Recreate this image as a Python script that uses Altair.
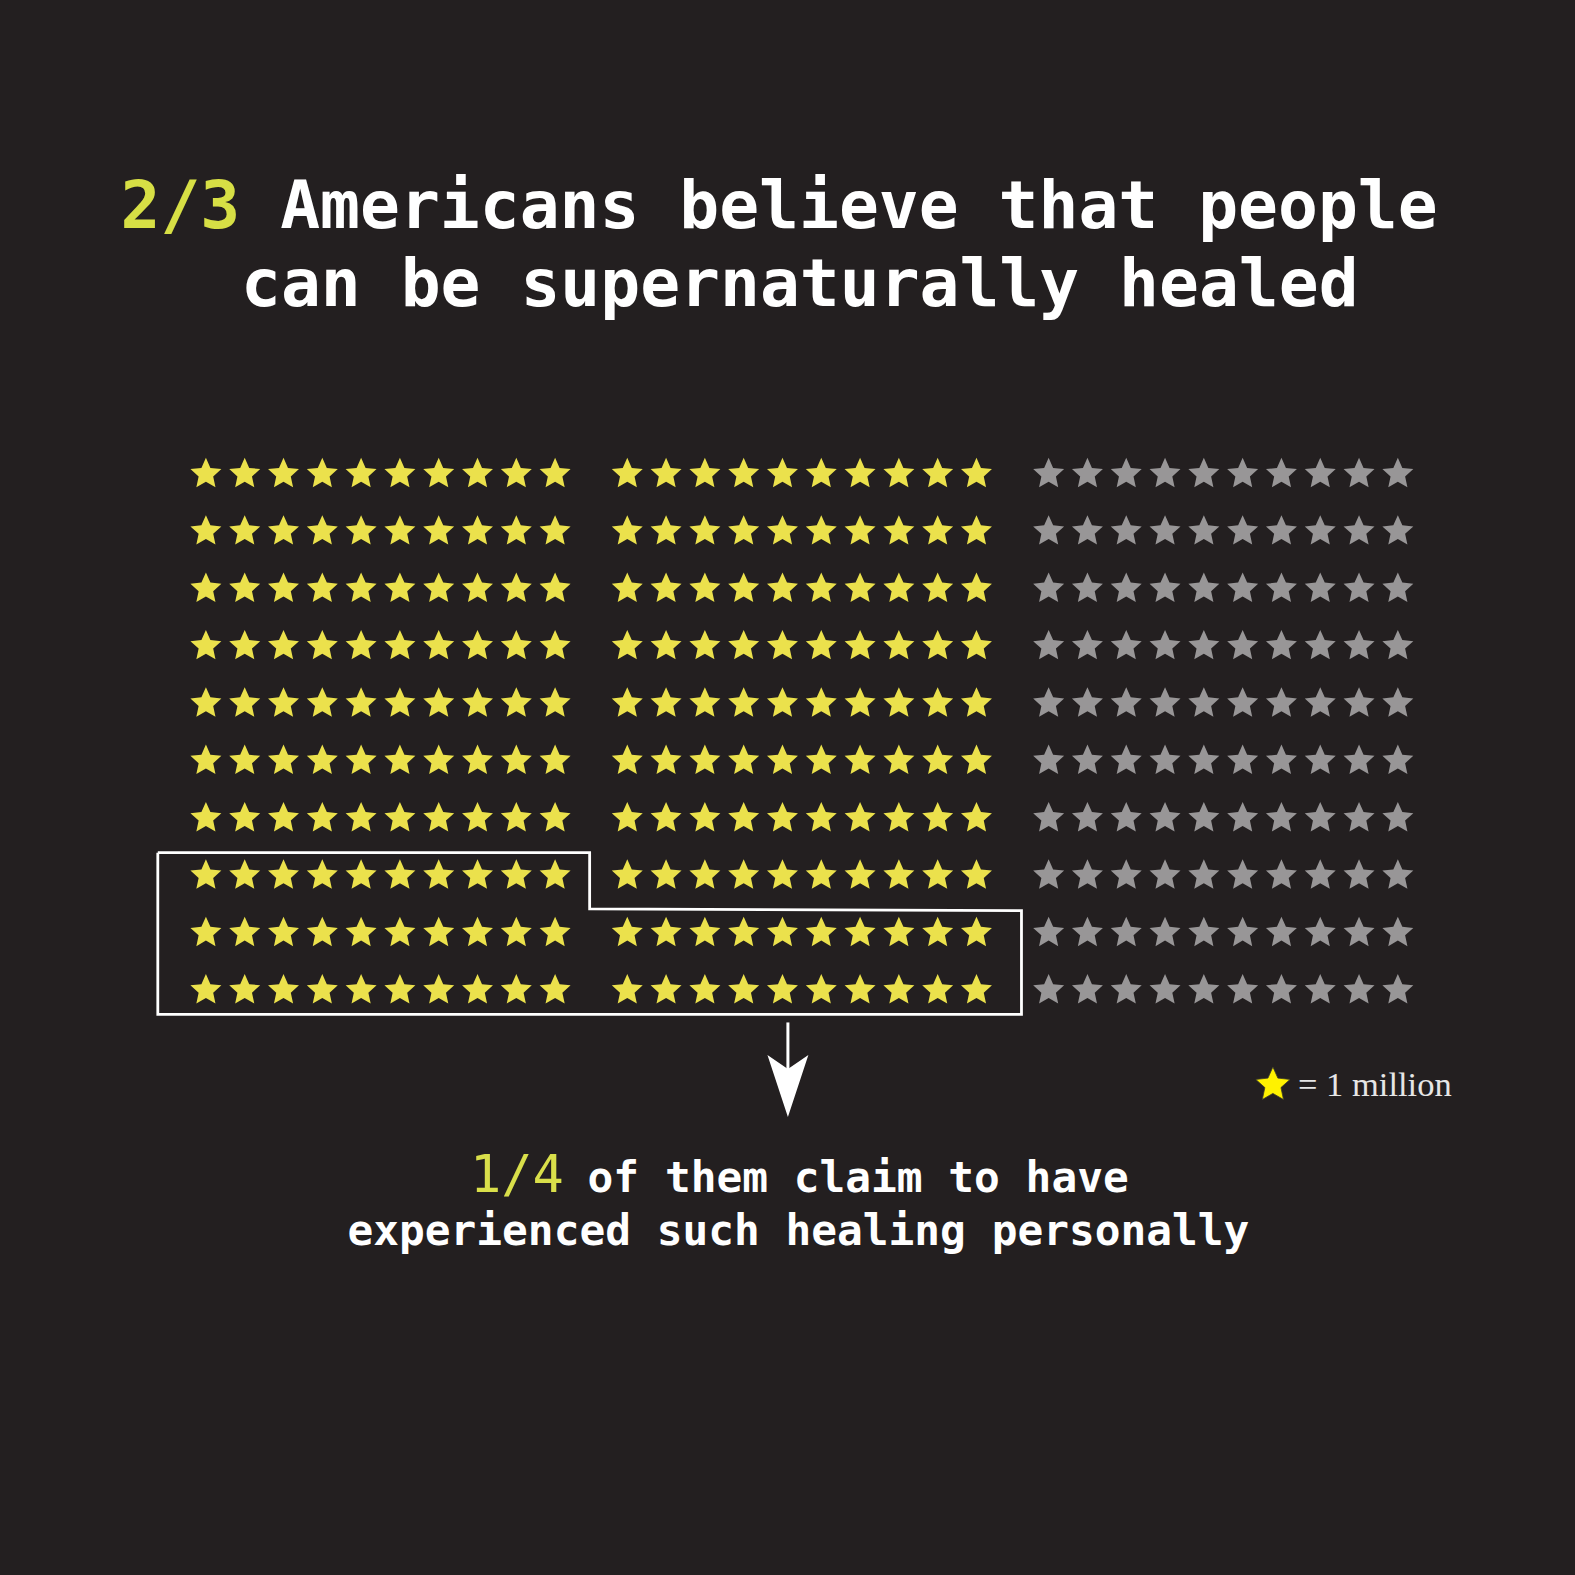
import altair as alt
import pandas as pd

# ---- data -------------------------------------------------------------
categories = ["Believe people can be supernaturally healed", "Do not believe"]
stars_millions = [200, 100]          # one star = 1 million
experienced_millions = 50            # boxed stars
star_colors = ["#ebe14c", "#989697"]

# ---- layout helpers (grid units) ---------------------------------------
PER_BLOCK = 100
PER_ROW = 10
BLOCK_STEP = 10.86

rows = []
i = 0
for cat, n in zip(categories, stars_millions):
    for _ in range(n):
        block = i // PER_BLOCK
        within = i % PER_BLOCK
        rows.append({
            "category": cat,
            "u": block * BLOCK_STEP + within % PER_ROW,
            "r": within // PER_ROW,
        })
        i += 1
stars = pd.DataFrame(rows)

STAR = ("M0,-1L0.276,-0.38L0.951,-0.309L0.447,0.145L0.588,0.809L0,0.47"
        "L-0.588,0.809L-0.447,0.145L-0.951,-0.309L-0.276,-0.38Z")
ARROWHEAD = "M0,1L-0.66,-1L0,-0.55L0.66,-1Z"

W = H = 1575
xs = alt.Scale(domain=[-5.307, 35.286], nice=False, zero=False)
ys = alt.Scale(domain=[-8.265, 19.193], nice=False, zero=False, reverse=True)

star_layer = alt.Chart(stars).mark_point(
    shape=STAR, filled=True, size=1060, opacity=1, strokeWidth=0
).encode(
    x=alt.X("u:Q", scale=xs, axis=None),
    y=alt.Y("r:Q", scale=ys, axis=None),
    color=alt.Color("category:N", scale=alt.Scale(domain=categories, range=star_colors), legend=None),
)

# outline around the stars of those who experienced healing
box = pd.DataFrame({
    "u": [-1.24, 9.89, 9.89, 21.02, 21.02, -1.24, -1.24],
    "r": [6.6, 6.6, 7.58, 7.61, 9.42, 9.42, 6.6],
    "o": list(range(7)),
})
box_layer = alt.Chart(box).mark_line(color="white", strokeWidth=2.8, strokeJoin="miter").encode(
    x=alt.X("u:Q", scale=xs, axis=None),
    y=alt.Y("r:Q", scale=ys, axis=None),
    order="o:Q",
)

arrow_df = pd.DataFrame({"u": [15.0], "r": [9.56], "r2": [10.9], "rh": [10.67]})
arrow_shaft = alt.Chart(arrow_df).mark_rule(color="white", strokeWidth=3).encode(
    x=alt.X("u:Q", scale=xs, axis=None),
    y=alt.Y("r:Q", scale=ys, axis=None),
    y2="r2:Q",
)
arrow_head = alt.Chart(arrow_df).mark_point(
    shape=ARROWHEAD, filled=True, size=3844, color="white", opacity=1, strokeWidth=0
).encode(
    x=alt.X("u:Q", scale=xs, axis=None),
    y=alt.Y("rh:Q", scale=ys, axis=None),
)

legend_df = pd.DataFrame({"u": [27.5], "r": [10.65]})
legend_star = alt.Chart(legend_df).mark_point(
    shape=STAR, filled=True, size=1300, color="#fff200", opacity=1,
    stroke="#3a3a2a", strokeWidth=0.8
).encode(
    x=alt.X("u:Q", scale=xs, axis=None),
    y=alt.Y("r:Q", scale=ys, axis=None),
)


def label(text, x, y, size, color, font="DejaVu Sans Mono", weight="bold"):
    return alt.Chart(pd.DataFrame({"t": [text]})).mark_text(
        align="left", baseline="alphabetic", font=font, fontSize=size,
        fontWeight=weight, color=color
    ).encode(x=alt.value(x), y=alt.value(y), text="t:N")


TS = 66.3
CW = TS * 0.602
texts = [
    label("2/3", 120.5, 228, TS, "#d7df45"),
    label("Americans believe that people", 120.5 + 4 * CW, 228, TS, "white"),
    label("can be supernaturally healed", 241, 306, TS, "white"),
    label("1/4", 470, 1192, 52, "#d9df4a", weight="normal"),
    label("of them claim to have", 587.6, 1192, 42.8, "white"),
    label("experienced such healing personally", 347.5, 1245, 42.8, "white"),
    label("= 1 million", 1298, 1096, 34.5, "#e6e6e6", font="Liberation Serif", weight="normal"),
]

chart = alt.layer(
    star_layer, box_layer, arrow_shaft, arrow_head, legend_star, *texts
).properties(
    width=W, height=H, background="#231f20", padding=0,
    autosize=alt.AutoSizeParams(type="none"),
).configure_view(stroke=None)

chart.save("out.html", embed_options={"renderer": "svg", "actions": False})
